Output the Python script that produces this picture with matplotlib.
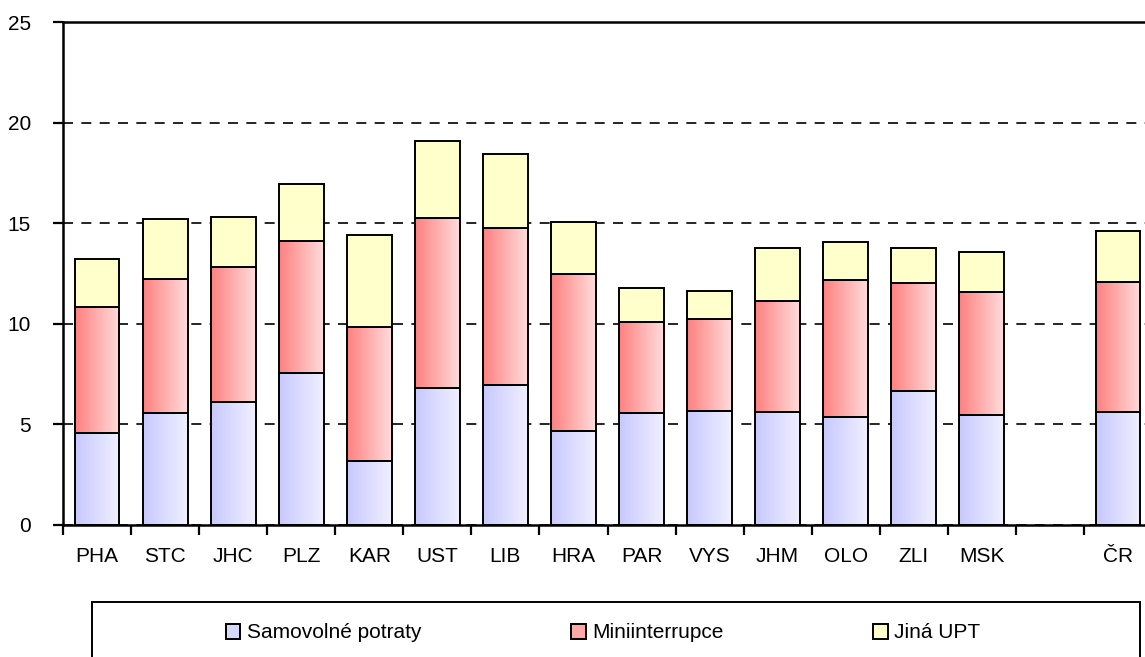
import matplotlib
matplotlib.use("Agg")
import matplotlib.pyplot as plt
from matplotlib.patches import Rectangle
import numpy as np

# data
regiony = ["PHA", "STC", "JHC", "PLZ", "KAR", "UST", "LIB", "HRA", "PAR", "VYS",
           "JHM", "OLO", "ZLI", "MSK", "", "ČR"]
samovolne = [4.56, 5.55, 6.10, 7.57, 3.18, 6.81, 6.96, 4.67, 5.57, 5.67, 5.62, 5.37, 6.66, 5.47, None, 5.63]
mini = [6.29, 6.66, 6.74, 6.53, 6.66, 8.45, 7.80, 7.80, 4.52, 4.57, 5.51, 6.81, 5.37, 6.11, None, 6.43]
jina = [2.37, 2.99, 2.46, 2.83, 4.57, 3.82, 3.68, 2.59, 1.69, 1.39, 2.64, 1.89, 1.74, 1.99, None, 2.55]
nazvy = ["Samovolné potraty", "Miniinterrupce", "Jiná UPT"]

plt.rcParams['font.family'] = ['Liberation Sans', 'DejaVu Sans']

W, H = 1145, 657
fig = plt.figure(figsize=(W / 100, H / 100), dpi=100)
ax = fig.add_axes([63 / W, (H - 525) / H, (1152 - 63) / W, (525 - 22) / H])

idx = [i for i, v in enumerate(samovolne) if v is not None]
x = np.array(idx, dtype=float) + 0.5
s = np.array([samovolne[i] for i in idx])
m = np.array([mini[i] for i in idx])
j = np.array([jina[i] for i in idx])

width = 0.66
b1 = ax.bar(x, s, width, color="#d8d8ff", edgecolor="black", linewidth=1.4, zorder=3)
b2 = ax.bar(x, m, width, bottom=s, color="#ffb0b0", edgecolor="black", linewidth=1.4, zorder=3)
b3 = ax.bar(x, j, width, bottom=s + m, color="#ffffcc", edgecolor="black", linewidth=1.4, zorder=3)


def gradient(bars, c_left, c_right):
    c_left = np.array(matplotlib.colors.to_rgb(c_left))
    c_right = np.array(matplotlib.colors.to_rgb(c_right))
    t = np.linspace(0, 1, 128)[None, :, None]
    img = c_left + (c_right - c_left) * t
    for p in bars:
        x0, y0 = p.get_x(), p.get_y()
        im = ax.imshow(img, extent=[x0, x0 + p.get_width(), y0, y0 + p.get_height()],
                       aspect="auto", interpolation="bilinear", zorder=2.5)
        im.set_clip_path(p)
        p.set_facecolor("none")


gradient(b1, "#c8c8ff", "#f0f0ff")
gradient(b2, "#ff8080", "#ffdcdc")

ax.set_xlim(0, 16)
ax.set_ylim(0, 25)

ax.set_yticks([0, 5, 10, 15, 20, 25])
ax.yaxis.grid(True, color="black", linestyle=(0, (6, 5)), linewidth=1.2, zorder=1)
ax.set_axisbelow(True)

ax.set_xticks(np.arange(0, 17))
ax.set_xticklabels([])
ax.set_xticks(np.arange(16) + 0.5, minor=True)
ax.set_xticklabels(regiony, minor=True, fontsize=15)
ax.tick_params(axis="x", which="major", length=7, width=1.6, direction="out")
ax.tick_params(axis="x", which="minor", length=0, pad=16)
ax.tick_params(axis="y", length=7, width=1.6, direction="out", labelsize=15, pad=16)

for sp in ["left", "bottom", "top"]:
    ax.spines[sp].set_linewidth(1.8)
ax.spines["right"].set_visible(False)

# legend box
fig.patches.append(Rectangle((92 / W, -0.05), (1140 - 92) / W, (H - 602) / H + 0.05,
                             transform=fig.transFigure, facecolor="white",
                             edgecolor="black", linewidth=1.4))
h1 = Rectangle((0, 0), 1, 1, facecolor="#d8d8ff", edgecolor="black", linewidth=1.4)
h2 = Rectangle((0, 0), 1, 1, facecolor="#ffa8a8", edgecolor="black", linewidth=1.4)
h3 = Rectangle((0, 0), 1, 1, facecolor="#ffffcc", edgecolor="black", linewidth=1.4)
fig.legend([h1, h2, h3], nazvy, loc="center", bbox_to_anchor=(603 / W, (H - 633) / H),
           ncol=3, frameon=False, fontsize=15, handlelength=0.7, handleheight=0.7,
           handletextpad=0.3, columnspacing=7.2)

fig.savefig("out.png", dpi=100)
